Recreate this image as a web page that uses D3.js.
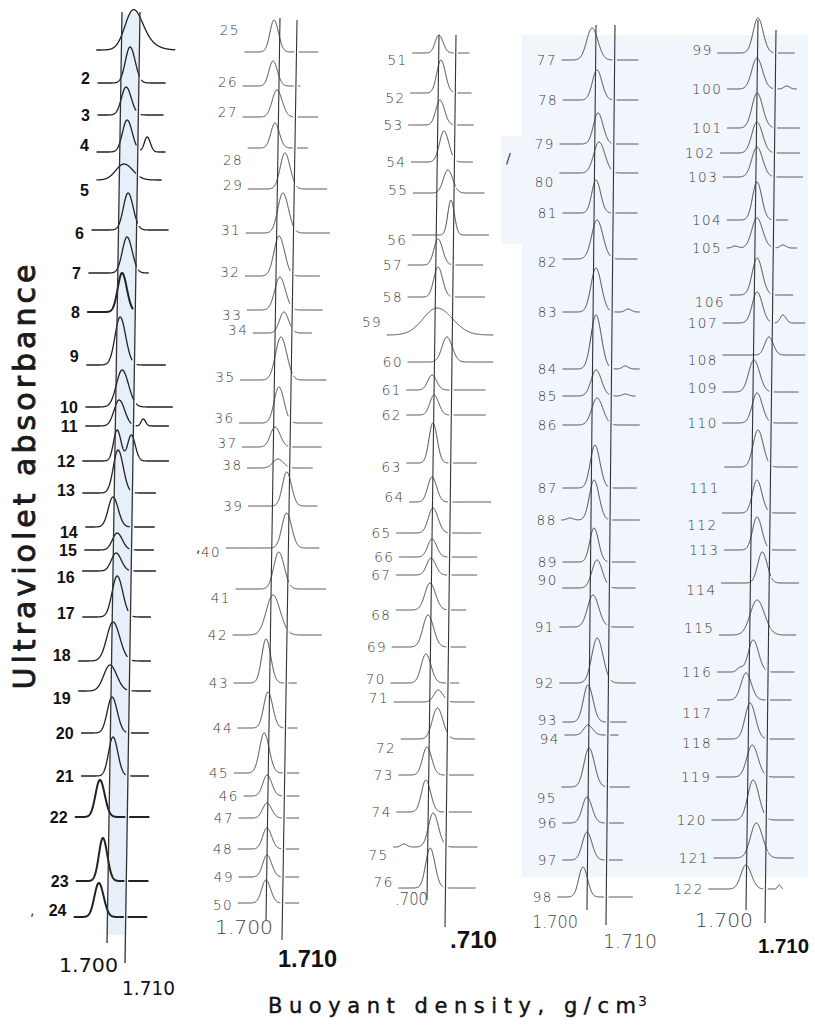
<!DOCTYPE html>
<html>
<head>
<meta charset="utf-8">
<script src="https://cdn.jsdelivr.net/npm/d3@7"></script>
<style>
  body { margin: 0; background: #fff; }
  svg { display: block; }
</style>
</head>
<body>
<svg id="chart" width="815" height="1035"></svg>
<script>
// ---- data: one entry per CsCl profile ----
const colSizes = [24, 25, 26, 22, 24];

const labels = [
  "", "2", "3", "4", "5", "6", "7", "8", "9", "10", "11", "12", "13", "14", "15", "16", "17", "18", "19", "20", "21", "22", "23", "24",
  "25", "26", "27", "28", "29", "31", "32", "33", "34", "35", "36", "37", "38", "39", "40", "41", "42", "43", "44", "45", "46", "47", "48", "49", "50",
  "51", "52", "53", "54", "55", "56", "57", "58", "59", "60", "61", "62", "63", "64", "65", "66", "67", "68", "69", "70", "71", "72", "73", "74", "75", "76",
  "77", "78", "79", "80", "81", "82", "83", "84", "85", "86", "87", "88", "89", "90", "91", "92", "93", "94", "95", "96", "97", "98",
  "99", "100", "101", "102", "103", "104", "105", "106", "107", "108", "109", "110", "111", "112", "113", "114", "115", "116", "117", "118", "119", "120", "121", "122"
];

// vertical stacking offset of each trace's baseline (chart units)
const offsets = [
  5.0, 8.3, 11.5, 15.2, 18.0, 23.0, 27.3, 31.2, 36.5, 40.7, 42.6, 46.1, 49.3, 52.7, 55.0, 57.1, 61.7, 66.1, 69.1, 73.3, 77.6, 81.7, 88.1, 91.7,
  5.2, 8.6, 11.7, 14.8, 18.9, 23.3, 27.6, 31.0, 33.3, 38.0, 42.3, 44.7, 46.8, 50.6, 54.8, 58.9, 63.5, 68.3, 72.8, 77.3, 79.6, 81.8, 84.9, 87.7, 90.3,
  5.3, 9.3, 12.5, 16.2, 19.3, 23.5, 26.5, 29.7, 33.5, 36.2, 39.0, 41.5, 46.3, 50.2, 53.3, 55.7, 57.5, 61.0, 64.7, 68.3, 70.2, 73.9, 77.5, 81.2, 84.7, 88.8,
  6.0, 10.0, 14.4, 17.3, 21.3, 25.9, 31.2, 36.9, 39.6, 42.5, 48.8, 52.0, 56.2, 58.8, 62.7, 68.3, 72.2, 73.5, 78.7, 82.3, 86.0, 89.7,
  5.3, 8.9, 12.8, 15.3, 17.7, 22.0, 24.8, 29.5, 32.3, 35.5, 39.2, 42.3, 46.7, 51.3, 55.0, 58.3, 63.5, 67.2, 70.0, 73.9, 77.7, 82.0, 85.8, 88.9
];

// main band: buoyant density (g/cm3)
const peakDensity = [
  1.7063, 1.7051, 1.7032, 1.7041, 1.7026, 1.7053, 1.7051, 1.7027, 1.7021, 1.7036, 1.7021, 1.7013, 1.7021, 1.6996, 1.7021, 1.7017, 1.7027, 1.7008, 1.6994, 1.7009, 1.7018, 1.6950, 1.6972, 1.6953,
  1.6968, 1.6965, 1.6991, 1.6982, 1.7045, 1.7037, 1.7018, 1.7026, 1.7052, 1.7039, 1.7031, 1.7010, 1.7029, 1.7086, 1.7089, 1.7046, 1.7015, 1.6978, 1.6994, 1.6975, 1.6995, 1.6996, 1.6999, 1.7002, 1.6998,
  1.7001, 1.7016, 1.7013, 1.7039, 1.7064, 1.7085, 1.7013, 1.7015, 1.7013, 1.7071, 1.6988, 1.7002, 1.6999, 1.6997, 1.7005, 1.7001, 1.6997, 1.6994, 1.6986, 1.6977, 1.7047, 1.7045, 1.6990, 1.6987, 1.7030, 1.7016,
  1.6981, 1.7009, 1.7017, 1.7024, 1.7010, 1.7018, 1.7015, 1.7018, 1.7020, 1.7027, 1.7019, 1.7016, 1.7018, 1.7035, 1.7016, 1.7041, 1.6995, 1.6996, 1.7004, 1.6995, 1.6997, 1.6978,
  1.7002, 1.6999, 1.7003, 1.7004, 1.7006, 1.7009, 1.7011, 1.7015, 1.7017, 1.7083, 1.7005, 1.7024, 1.7032, 1.7030, 1.7033, 1.7063, 1.7039, 1.7021, 1.6985, 1.7009, 1.7023, 1.7031, 1.7050, 1.6998
];

// main band: UV absorbance (relative)
const peakHeight = [
  0.70, 0.72, 0.56, 0.64, 0.32, 0.74, 0.72, 0.78, 0.96, 0.74, 0.52, 0.62, 0.86, 0.60, 0.34, 0.36, 0.82, 0.78, 0.52, 0.72, 0.78, 0.74, 0.86, 0.68,
  0.64, 0.50, 0.54, 0.50, 0.72, 0.80, 0.80, 0.66, 0.42, 0.86, 0.72, 0.40, 0.18, 0.68, 0.70, 0.74, 0.80, 0.88, 0.72, 0.80, 0.42, 0.30, 0.42, 0.44, 0.46,
  0.36, 0.66, 0.50, 0.62, 0.46, 0.70, 0.52, 0.60, 0.54, 0.50, 0.30, 0.40, 0.80, 0.50, 0.50, 0.36, 0.34, 0.54, 0.64, 0.58, 0.24, 0.62, 0.56, 0.64, 0.68, 0.80,
  0.64, 0.60, 0.62, 0.62, 0.66, 0.78, 0.88, 1.08, 0.52, 0.54, 0.86, 0.80, 0.68, 0.56, 0.64, 0.90, 0.74, 0.20, 0.78, 0.52, 0.56, 0.60,
  0.70, 0.62, 0.70, 0.62, 0.60, 0.76, 0.60, 0.74, 0.62, 0.36, 0.64, 0.60, 0.74, 0.66, 0.66, 0.62, 0.70, 0.64, 0.54, 0.72, 0.64, 0.80, 0.70, 0.48
];

// band width (standard deviation, in 0.001 g/cm3)
const peakWidth = [
  4.5, 2.6, 2.6, 2.6, 4.5, 2.6, 2.6, 2.4, 2.8, 3.2, 2.8, 2.0, 2.6, 2.6, 2.6, 2.6, 2.8, 3.4, 3.4, 2.6, 2.4, 2.4, 2.2, 2.4,
  2.4, 2.4, 2.8, 2.4, 2.8, 3.0, 3.0, 3.0, 2.6, 3.2, 2.8, 2.8, 3.0, 2.6, 2.8, 3.0, 4.0, 2.6, 2.6, 2.8, 2.6, 2.6, 2.6, 2.6, 2.6,
  2.2, 2.4, 2.4, 2.6, 2.6, 1.8, 2.4, 2.4, 8.0, 2.8, 2.4, 2.4, 2.2, 2.4, 2.6, 2.4, 2.4, 2.8, 2.8, 2.6, 2.4, 2.8, 2.4, 2.4, 2.6, 2.4,
  2.8, 2.4, 2.4, 2.8, 2.2, 2.8, 2.6, 2.6, 2.6, 2.8, 2.4, 2.4, 2.2, 2.6, 2.8, 2.8, 2.4, 2.2, 2.6, 2.4, 2.4, 2.2,
  2.6, 2.8, 2.8, 2.8, 2.8, 2.4, 2.8, 2.6, 2.6, 2.2, 2.8, 2.6, 2.6, 2.4, 2.4, 2.4, 3.6, 2.6, 2.6, 2.6, 2.8, 2.8, 3.0, 2.6
];

// density range covered by each scan
const startDensity = [
  1.6863, 1.6873, 1.6876, 1.6874, 1.6876, 1.6853, 1.6840, 1.6838, 1.6837, 1.6836, 1.6837, 1.6824, 1.6827, 1.6846, 1.6843, 1.6833, 1.6838, 1.6819, 1.6822, 1.6842, 1.6846, 1.6817, 1.6828, 1.6820,
  1.6797, 1.6789, 1.6791, 1.6824, 1.6828, 1.6819, 1.6818, 1.6832, 1.6870, 1.6798, 1.6796, 1.6816, 1.6847, 1.6856, 1.6725, 1.6788, 1.6774, 1.6784, 1.6812, 1.6792, 1.6854, 1.6826, 1.6823, 1.6831, 1.6828,
  1.6847, 1.6839, 1.6830, 1.6850, 1.6864, 1.6862, 1.6841, 1.6843, 1.6727, 1.6849, 1.6845, 1.6847, 1.6851, 1.6871, 1.6801, 1.6818, 1.6803, 1.6806, 1.6786, 1.6783, 1.6802, 1.6845, 1.6836, 1.6827, 1.6813, 1.6845,
  1.6823, 1.6831, 1.6817, 1.6818, 1.6836, 1.6839, 1.6842, 1.6845, 1.6846, 1.6848, 1.6851, 1.6847, 1.6855, 1.6856, 1.6843, 1.6846, 1.6864, 1.6875, 1.6862, 1.6869, 1.6871, 1.6847,
  1.6781, 1.6837, 1.6841, 1.6804, 1.6822, 1.6847, 1.6849, 1.6869, 1.6833, 1.6835, 1.6838, 1.6840, 1.6854, 1.6846, 1.6859, 1.6846, 1.6839, 1.6831, 1.6834, 1.6836, 1.6834, 1.6815, 1.6829, 1.6804
];
const endDensity = [
  1.7296, 1.7246, 1.7237, 1.7252, 1.7232, 1.7275, 1.7168, 1.7100, 1.7271, 1.7313, 1.7293, 1.7296, 1.7227, 1.7224, 1.7221, 1.7233, 1.7210, 1.7214, 1.7217, 1.7209, 1.7213, 1.7217, 1.7217, 1.7214,
  1.7226, 1.7124, 1.7232, 1.7176, 1.7292, 1.7314, 1.7259, 1.7279, 1.7217, 1.7309, 1.7290, 1.7286, 1.7235, 1.7268, 1.7284, 1.7329, 1.7309, 1.7161, 1.7171, 1.7186, 1.7189, 1.7190, 1.7194, 1.7196, 1.7198,
  1.7178, 1.7193, 1.7207, 1.7205, 1.7275, 1.7302, 1.7270, 1.7283, 1.7333, 1.7334, 1.7291, 1.7293, 1.7245, 1.7329, 1.7274, 1.7253, 1.7254, 1.7194, 1.7197, 1.7160, 1.7247, 1.7250, 1.7247, 1.7239, 1.7270, 1.7262,
  1.7223, 1.7225, 1.7227, 1.7229, 1.7226, 1.7228, 1.7242, 1.7245, 1.7225, 1.7248, 1.7235, 1.7253, 1.7234, 1.7235, 1.7227, 1.7241, 1.7195, 1.7154, 1.7215, 1.7185, 1.7182, 1.7236,
  1.7202, 1.7216, 1.7235, 1.7237, 1.7255, 1.7177, 1.7228, 1.7209, 1.7276, 1.7278, 1.7243, 1.7240, 1.7243, 1.7236, 1.7238, 1.7257, 1.7245, 1.7237, 1.7223, 1.7242, 1.7244, 1.7242, 1.7245, 1.7190
];

// minor bands: [trace label, density, absorbance, width]
const minorBands = [
  ["", 1.7120, 0.16, 6.0],
  ["4", 1.7152, 0.30, 1.6],
  ["11", 1.7154, 0.14, 1.2],
  ["12", 1.7091, 0.52, 2.0],
  ["75", 1.6870, 0.06, 1.5],
  ["83", 1.7184, 0.06, 1.5],
  ["84", 1.7171, 0.06, 1.5],
  ["85", 1.7173, 0.04, 1.5],
  ["88", 1.6890, 0.04, 1.5],
  ["100", 1.7162, 0.06, 1.5],
  ["105", 1.7152, 0.06, 1.5],
  ["105", 1.6892, 0.04, 1.5],
  ["107", 1.7157, 0.16, 1.5],
  ["116", 1.6950, 0.08, 1.5],
  ["122", 1.7172, 0.08, 0.8]
];

const refDensities = [1.700, 1.710];
const tickTexts = [
  ["1.700", "1.710"], ["1.700", "1.710"], [".700", ".710"], ["1.700", "1.710"], ["1.700", "1.710"]
];

// ---- layout ----
// each column: reference lines as [yTop, yBottom, xTop, xBottom]
const columns = [
  { l700: [12, 943, 122, 107], l710: [12, 963, 140, 125] },
  { l700: [18, 920, 280, 266], l710: [20, 940, 297, 282] },
  { l700: [35, 900, 439, 427], l710: [35, 927, 456, 445] },
  { l700: [25, 910, 596, 587], l710: [25, 925, 615, 606] },
  { l700: [20, 910, 758, 746], l710: [30, 923, 776, 765] }
];
// tick label styling per column: [dx, baseline, width, size, weight] for 1.700 and 1.710
const tickLayout = [
  [[11, 972, 59, 19, "normal"], [-3, 995, 53, 19, "normal"]],
  [[7, 934, 58, 19, "light"], [-4, 967, 59, 24, "bold"]],
  [[1, 905, 33, 17, "light"], [5, 948, 47, 24, "bold"]],
  [[-9, 928, 46, 18, "light"], [-3, 948, 54, 19, "light"]],
  [[7, 927, 58, 19, "light"], [-7, 953, 51, 20.5, "bold"]]
];
const labelNudge = {
  "2": -5, "4": -7, "5": 10, "6": 3, "9": -9, "13": -3, "14": 5, "16": 6, "17": -4, "18": -6, "19": 7, "24": -7,
  "25": -22, "26": -4, "27": -5, "28": 12, "29": -4, "31": -3, "32": -4, "33": 5, "34": -3, "35": -3, "36": -5,
  "37": -4, "38": -3, "40": 4, "41": 9, "50": 2,
  "51": 7, "52": 5, "55": -3, "56": 5, "59": -13, "63": 4, "64": -5, "68": 5, "70": -4, "71": -4, "72": 9, "75": 8, "76": -6,
  "80": 9, "82": 3, "90": -8, "93": -2, "94": 4, "95": 11,
  "99": -3, "106": 7, "108": 5, "109": -4, "111": 21, "112": 12, "114": 7, "115": -7, "117": 13, "118": 4
};
const heavyTraces = ["8", "22", "23", "24"];

const svg = d3.select("#chart");
const absScale = d3.scaleLinear().domain([0, 1]).range([0, 50]);
const yPos = d3.scaleLinear().domain([0, 103.5]).range([0, 1035]);

columns.forEach(c => {
  c.line700 = d3.scaleLinear().domain(c.l700.slice(0, 2)).range(c.l700.slice(2));
  c.line710 = d3.scaleLinear().domain(c.l710.slice(0, 2)).range(c.l710.slice(2));
  c.xAt = y => d3.scaleLinear().domain(refDensities).range([c.line700(y), c.line710(y)]);
});

// light blue tint of the scan
svg.append("rect").attr("x", 522).attr("y", 35).attr("width", 286).attr("height", 842).attr("fill", "#f1f6fd");
svg.append("rect").attr("x", 501).attr("y", 136).attr("width", 24).attr("height", 108).attr("fill", "#f1f6fd");
const c0 = columns[0];
svg.append("path")
  .attr("d", d3.line()([[c0.line700(14), 14], [c0.line710(14), 14], [c0.line710(935), 935], [c0.line700(935), 935]]) + "Z")
  .attr("fill", "#e6effa");

function band(d, center, h, w) {
  const s = (w / 1000) * (d > center ? 1.1 : 1);
  return h * Math.exp(-0.5 * ((d - center) / s) ** 2);
}

// assemble traces
let colIndex = [];
colSizes.forEach((n, ci) => { for (let k = 0; k < n; k++) colIndex.push(ci); });

const traces = labels.map((lab, i) => ({
  label: lab,
  col: colIndex[i],
  base: yPos(offsets[i]),
  peak: peakDensity[i], h: peakHeight[i], w: peakWidth[i],
  start: startDensity[i], end: endDensity[i],
  minor: minorBands.filter(m => m[0] === lab)
}));

const gTraces = svg.append("g").attr("fill", "none").attr("stroke-linecap", "round").attr("stroke-linejoin", "round");

traces.forEach(t => {
  const c = columns[t.col];
  const x = c.xAt(t.base);
  const pts = d3.range(t.start, t.end + 1e-9, 0.00008).map(d => {
    let a = band(d, t.peak, t.h, t.w);
    t.minor.forEach(m => { a += band(d, m[1], m[2], m[3]); });
    return { x: x(d), y: t.base - absScale(a), a };
  });
  const line = d3.line()
    .defined(p => !(Math.abs(p.x - c.line710(p.y)) < 2.6 && p.a < 0.14))
    .x(p => p.x).y(p => p.y);
  const heavy = t.col === 0 && heavyTraces.includes(t.label);
  gTraces.append("path")
    .attr("d", line(pts))
    .attr("stroke", t.col === 0 ? "#222" : "#3c3c3c")
    .attr("stroke-width", heavy ? 2 : (t.col === 0 ? 1.3 : 1));

  if (t.label) {
    const dy = labelNudge[t.label] || 0;
    const bold = t.col === 0;
    svg.append("text")
      .attr("x", x(t.start) - (bold ? 8 : 5))
      .attr("y", t.base + dy)
      .attr("dy", "0.36em")
      .attr("text-anchor", "end")
      .attr("font-family", bold ? "'Liberation Sans', Arial, sans-serif" : "'DejaVu Sans', sans-serif")
      .attr("font-weight", bold ? "bold" : 200)
      .attr("font-size", bold ? 16 : 13.5)
      .attr("letter-spacing", bold ? 0 : 1.5)
      .attr("fill", bold ? "#111" : "#3a3a3a")
      .text(t.label);
  }
});

// reference lines at 1.700 and 1.710
const gRef = svg.append("g").attr("stroke", "#333");
columns.forEach((c, ci) => {
  [["l700", "line700"], ["l710", "line710"]].forEach(([k, fn]) => {
    const [y0, y1] = c[k];
    gRef.append("line")
      .attr("x1", c[fn](y0)).attr("y1", y0)
      .attr("x2", c[fn](y1)).attr("y2", y1)
      .attr("stroke-width", ci === 0 ? 1.3 : 1.1);
  });
  // tick labels below the lines
  tickLayout[ci].forEach((tl, j) => {
    const [dx, yb, wdt, fs, wt] = tl;
    const lineFn = j === 0 ? c.line700 : c.line710;
    const yEnd = j === 0 ? c.l700[1] : c.l710[1];
    svg.append("text")
      .attr("x", lineFn(yEnd) + dx)
      .attr("y", yb)
      .attr("text-anchor", j === 0 ? "end" : "start")
      .attr("font-family", wt === "bold" ? "'Liberation Sans', Arial, sans-serif" : "'DejaVu Sans', sans-serif")
      .attr("font-weight", wt === "bold" ? "bold" : (wt === "light" ? 200 : "normal"))
      .attr("font-size", fs)
      .attr("fill", wt === "light" ? "#444" : "#111")
      .attr("textLength", wdt)
      .attr("lengthAdjust", "spacingAndGlyphs")
      .text(tickTexts[ci][j]);
  });
});

// stray pencil marks on the scan
[[30, 915, ","], [196, 552, ","], [506, 163, "/"]].forEach(([mx, my, s]) => {
  svg.append("text").attr("x", mx).attr("y", my).attr("font-family", "'DejaVu Sans', sans-serif")
    .attr("font-size", 14).attr("fill", "#333").text(s);
});

// axis titles
svg.append("text")
  .attr("transform", "translate(35,477) rotate(-90)")
  .attr("text-anchor", "middle")
  .attr("font-family", "'DejaVu Sans', sans-serif")
  .attr("font-size", 30)
  .attr("fill", "#1a1a1a")
  .attr("stroke", "#1a1a1a")
  .attr("stroke-width", 0.9)
  .attr("textLength", 425)
  .attr("lengthAdjust", "spacing")
  .text("Ultraviolet absorbance");

svg.append("text")
  .attr("x", 268).attr("y", 1013)
  .attr("font-family", "'DejaVu Sans', sans-serif")
  .attr("font-size", 21)
  .attr("fill", "#111")
  .attr("stroke", "#111")
  .attr("stroke-width", 0.4)
  .attr("textLength", 368)
  .attr("lengthAdjust", "spacing")
  .text("Buoyant density, g/cm");
svg.append("text")
  .attr("x", 638).attr("y", 1006)
  .attr("font-family", "'DejaVu Sans', sans-serif")
  .attr("font-size", 14)
  .attr("fill", "#111")
  .text("3");
</script>
</body>
</html>
